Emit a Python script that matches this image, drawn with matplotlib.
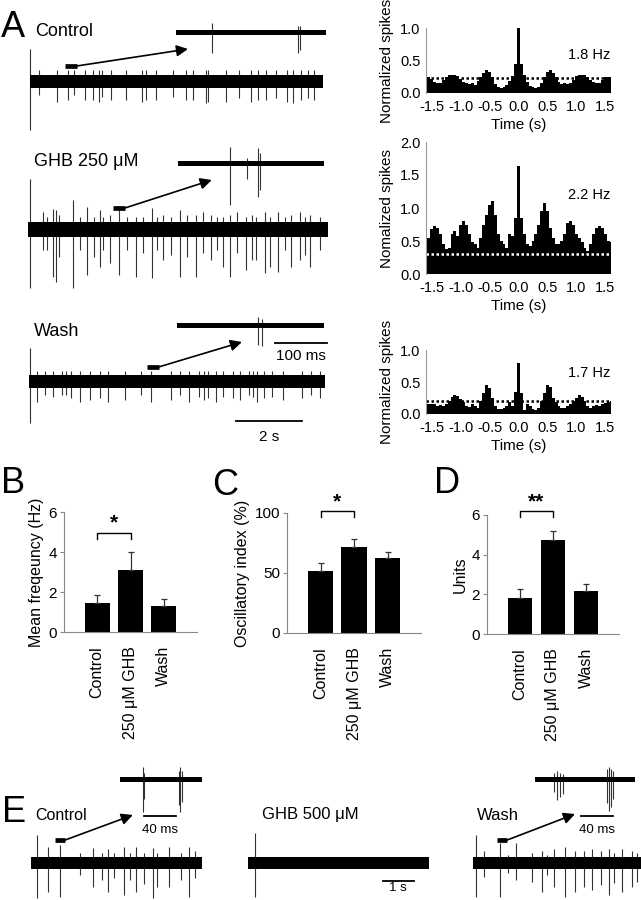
import numpy as np
import matplotlib.pyplot as plt

plt.rcParams['font.family'] = ['Liberation Sans', 'DejaVu Sans']
plt.rcParams['axes.unicode_minus'] = False

# ---------------- data ----------------
# autocorrelation histograms (normalized spikes), bins of 0.05 s from -1.6 to 1.6 s
bin_start, bin_w = -1.6, 0.05
hist_ctrl = [0.24, 0.24, 0.22, 0.17, 0.15, 0.16, 0.20, 0.24, 0.27, 0.28,
             0.28, 0.26, 0.22, 0.17, 0.15, 0.14, 0.15, 0.13, 0.18, 0.25,
             0.31, 0.35, 0.32, 0.24, 0.14, 0.10, 0.08, 0.10, 0.12, 0.18,
             0.26, 0.45, 1.00, 0.44, 0.27, 0.17, 0.11, 0.09, 0.08, 0.10,
             0.15, 0.25, 0.33, 0.36, 0.31, 0.24, 0.17, 0.14, 0.15, 0.14,
             0.16, 0.20, 0.26, 0.28, 0.28, 0.27, 0.24, 0.20, 0.17, 0.15,
             0.16, 0.20, 0.24, 0.25, 0.25]
hist_ghb = [0.45, 0.55, 0.68, 0.72, 0.70, 0.60, 0.45, 0.38, 0.40, 0.60,
            0.65, 0.58, 0.75, 0.80, 0.75, 0.60, 0.48, 0.45, 0.40, 0.55,
            0.75, 0.90, 1.05, 1.10, 0.90, 0.60, 0.50, 0.45, 0.40, 0.60,
            0.58, 0.85, 1.63, 0.85, 0.60, 0.45, 0.42, 0.50, 0.60, 0.75,
            0.95, 1.08, 0.95, 0.70, 0.55, 0.45, 0.45, 0.50, 0.60, 0.78,
            0.80, 0.75, 0.60, 0.55, 0.48, 0.40, 0.35, 0.45, 0.60, 0.70,
            0.72, 0.70, 0.60, 0.50, 0.48]
hist_wash = [0.17, 0.16, 0.15, 0.15, 0.13, 0.14, 0.12, 0.15, 0.20, 0.26,
             0.30, 0.28, 0.23, 0.18, 0.13, 0.11, 0.15, 0.12, 0.10, 0.20,
             0.33, 0.45, 0.40, 0.25, 0.12, 0.08, 0.08, 0.10, 0.12, 0.18,
             0.12, 0.35, 0.80, 0.33, 0.06, 0.15, 0.12, 0.08, 0.07, 0.10,
             0.20, 0.33, 0.45, 0.42, 0.25, 0.18, 0.12, 0.10, 0.10, 0.12,
             0.15, 0.20, 0.25, 0.30, 0.27, 0.20, 0.12, 0.10, 0.12, 0.14,
             0.13, 0.15, 0.17, 0.18, 0.20]
mean_rate = [0.23, 0.30, 0.21]
osc_freq = ['1.8 Hz', '2.2 Hz', '1.7 Hz']

# summary bars
groups = ['Control', '250 \u03bcM GHB', 'Wash']
freq_mean = [1.45, 3.12, 1.32]
freq_err = [0.42, 0.88, 0.35]
osc_mean = [51.7, 71.3, 62.2]
osc_err = [6.3, 7.4, 4.9]
units_mean = [1.84, 4.74, 2.18]
units_err = [0.42, 0.47, 0.33]

# recordings: spike times, negative peaks, positive peaks (first entry = artifact)
a_ctrl_t = [0.0, 0.28, 0.83, 1.16, 1.33, 1.67, 1.92, 2.10, 2.20, 2.47, 2.91, 3.41, 3.53, 3.84, 4.34,
            4.75, 4.95, 5.35, 5.40, 5.96, 6.36, 6.72, 6.92, 7.17, 7.47, 7.80, 7.98, 8.23, 8.43, 8.64]
a_ctrl_dn = [-49, -14, -21, -19, -14, -19, -19, -21, -16, -19, -19, -21, -19, -19, -16,
             -19, -19, -22, -21, -21, -17, -21, -19, -19, -17, -21, -22, -19, -17, -19]
a_ctrl_up = [32] + [11] * 29

a_ghb_t = [0.06, 0.46, 0.59, 0.75, 0.85, 0.95, 1.37, 1.58, 1.80, 2.00, 2.18, 2.28, 2.48, 2.75, 2.99,
           3.27, 3.49, 3.75, 3.90, 4.10, 4.35, 4.61, 4.81, 5.11, 5.31, 5.54, 5.72, 5.90, 6.12,
           6.34, 6.61, 6.78, 6.93, 7.18, 7.33, 7.59, 7.79, 7.99, 8.24, 8.39, 8.55, 8.85]
a_ghb_dn = [-59, -21, -21, -48, -53, -28, -59, -21, -46, -28, -38, -21, -34, -46, -21,
            -48, -24, -49, -21, -31, -26, -48, -28, -48, -24, -31, -21, -38, -48,
            -24, -41, -31, -31, -44, -38, -43, -21, -38, -31, -26, -38, -21]
a_ghb_up = [50, 17, 12, 20, 19, 14, 29, 12, 22, 12, 19, 12, 14, 19, 12,
            12, 12, 21, 12, 14, 12, 19, 14, 14, 17, 14, 12, 12, 14,
            17, 12, 14, 12, 17, 12, 17, 12, 14, 17, 12, 14, 12]

a_wash_t = [0.03, 0.23, 0.48, 0.74, 0.99, 1.14, 1.29, 1.55, 1.85, 2.15, 2.40, 2.91, 3.41, 3.72,
            4.32, 4.58, 4.88, 5.18, 5.33, 5.43, 5.69, 5.89, 6.19, 6.41, 6.70, 6.80, 6.92,
            7.15, 7.40, 7.71, 8.31, 8.57, 8.84]
a_wash_dn = [-42, -21, -14, -16, -14, -14, -17, -21, -19, -17, -21, -19, -14, -21,
             -19, -14, -21, -16, -19, -17, -21, -16, -17, -19, -14, -16, -21,
             -17, -16, -19, -17, -14, -17]
a_wash_up = [33] + [10] * 32

# expanded traces (ms)
in_ctrl_t, in_ctrl_dn, in_ctrl_up = [69, 235, 238], [-21, -21, -18], [9, 6, 6]
in_ghb_t, in_ghb_dn, in_ghb_up = [100, 132, 154, 158], [-42, -16, -34, -27], [16, 5, 15, 10]
in_wash_t, in_wash_dn, in_wash_up = [156, 163], [-20, -21], [8, 6]

# panel E
e_ctrl_t = [0.20, 0.56, 0.94, 1.58, 2.01, 2.28, 2.49, 2.66, 2.98, 3.19, 3.39, 3.62, 3.92,
            4.05, 4.43, 4.81, 5.08, 5.29]
e_ctrl_dn = [-35, -29, -34, -12, -24, -17, -29, -15, -32, -17, -29, -21, -35, -24, -24, -17, -34, -15]
e_ctrl_up = [28, 16, 18, 10, 15, 10, 14, 10, 16, 10, 16, 10, 15, 10, 16, 10, 16, 12]
e_ghb_t, e_ghb_dn, e_ghb_up = [0.23], [-34], [30]
e_wash_t = [0.09, 0.35, 0.87, 1.14, 1.39, 1.89, 2.22, 2.38, 2.59, 2.97, 3.29, 3.56, 3.83,
            4.10, 4.36, 4.53, 4.80, 5.12, 5.28]
e_wash_dn = [-34, -14, -34, -10, -17, -19, -29, -12, -24, -34, -29, -24, -27, -22, -32, -20, -29, -24, -19]
e_wash_up = [28, 12, 20, 8, 20, 10, 12, 8, 14, 16, 12, 12, 14, 12, 14, 10, 14, 12, 10]
ein_ctrl_t, ein_ctrl_dn, ein_ctrl_up = [28, 30, 73, 75, 77], [-33, -20, -26, -33, -23], [12, 6, 8, 12, 8]
ein_wash_t = [24, 27, 31, 35, 90, 92, 95, 97]
ein_wash_dn = [-13, -21, -18, -15, -24, -32, -28, -20]
ein_wash_up = [6, 8, 6, 5, 10, 12, 10, 8]

# ---------------- figure ----------------
W, H = 641, 900
fig = plt.figure(figsize=(W / 100, H / 100), dpi=100)


def px_axes(x0, y0, x1, y1):
    return fig.add_axes([x0 / W, 1 - y1 / H, (x1 - x0) / W, (y1 - y0) / H])


def trace(x0, x1, base, dur, half, band, t, dn, up):
    ax = px_axes(x0, base - half, x1, base + half)
    ax.set_xlim(0, dur)
    ax.set_ylim(-half, half)
    ax.axis('off')
    ax.vlines(t, dn, up, color='#333333', lw=0.8, clip_on=False, zorder=1)
    ax.fill_between([0, dur], -band, band, color='black', lw=0, zorder=2)
    return ax


def zoom_mark(ax, ax_in, t0, t1, y, tip):
    ax.plot([t0, t1], [y, y], color='black', lw=3.4, solid_capstyle='butt')
    ax_in.annotate('', xy=tip, xycoords='data', xytext=(t1, y), textcoords=ax.transData,
                   annotation_clip=False,
                   arrowprops=dict(arrowstyle='-|>', color='black', lw=1.2,
                                   mutation_scale=17, shrinkA=0, shrinkB=0))


def scale_bar(ax, a, b, y, label, ty, fs):
    ax.plot([a, b], [y, y], color='black', lw=1.3, clip_on=False)
    ax.text((a + b) / 2, ty, label, ha='center', va='center', fontsize=fs)


def letter(x, y, s):
    fig.text(x / W, 1 - y / H, s, fontsize=26, va='baseline', ha='left')


def label(x, y, s, fs):
    fig.text(x / W, 1 - y / H, s, fontsize=fs, va='center', ha='left')


# ---- panel A traces ----
letter(1, 37, 'A')
label(35, 31, 'Control', 13)
label(34, 162, 'GHB 250 \u03bcM', 13)
label(34, 331, 'Wash', 13)

ax = trace(30, 323, 81, 8.9, 60, 6.5, a_ctrl_t, a_ctrl_dn, a_ctrl_up)
axi = trace(176, 326, 32, 288, 30, 2.5, in_ctrl_t, in_ctrl_dn, in_ctrl_up)
zoom_mark(ax, axi, 1.06, 1.42, 15, (23, -17))

ax = trace(28, 328, 229, 9.1, 70, 7.5, a_ghb_t, a_ghb_dn, a_ghb_up)
axi = trace(178, 324, 163, 281, 50, 2.5, in_ghb_t, in_ghb_dn, in_ghb_up)
zoom_mark(ax, axi, 2.58, 2.94, 21, (65, -17))

ax = trace(29, 325, 381, 9.0, 60, 6.5, a_wash_t, a_wash_dn, a_wash_up)
axi = trace(177, 324, 325, 283, 30, 2.5, in_wash_t, in_wash_dn, in_wash_up)
zoom_mark(ax, axi, 3.58, 3.94, 14, (125, -17))
scale_bar(ax, 6.3, 8.3, -40, '2 s', -56, 11)
scale_bar(axi, 188, 288, -18, '100 ms', -31, 11)

# ---- panel A histograms ----
edges = [bin_start + i * bin_w - bin_w / 2 for i in range(len(hist_ctrl) + 1)]
hist_specs = [(28, 93, hist_ctrl, 1.0, [0.0, 0.5, 1.0], 'black', 'Normalized spikes', 0.58),
              (142, 274, hist_ghb, 2.0, [0.0, 0.5, 1.0, 1.5, 2.0], 'white', 'Nomalized spikes', 0.60),
              (350, 414, hist_wash, 1.0, [0.0, 0.5, 1.0], 'black', 'Normalized spikes', 0.64)]
for i, (y0, y1, vals, ymax, yt, lc, yl, ty) in enumerate(hist_specs):
    ax = px_axes(426, y0, 611, y1)
    ax.stairs(vals, edges, fill=True, color='black', lw=0)
    ax.axhline(mean_rate[i], color=lc, ls=(0, (1, 1)), lw=1.8)
    ax.set_xlim(-1.6, 1.6)
    ax.set_ylim(0, ymax)
    for s in ['top', 'right', 'bottom']:
        ax.spines[s].set_visible(False)
    ax.spines['left'].set_color('#999999')
    ax.set_yticks(yt)
    ax.set_yticklabels(['%.1f' % v for v in yt])
    ax.set_xticks([-1.5, -1.0, -0.5, 0.0, 0.5, 1.0, 1.5])
    ax.set_xticklabels(['-1.5', '-1.0', '-0.5', '0.0', '0.5', '1.0', '1.5'])
    ax.tick_params(axis='x', length=0, pad=5, labelsize=10.5)
    ax.tick_params(axis='y', length=0, pad=4, labelsize=10.5)
    ax.set_xlabel('Time (s)', fontsize=11, labelpad=3)
    ax.set_ylabel(yl, fontsize=11, labelpad=4)
    ax.text(0.77, ty, osc_freq[i], transform=ax.transAxes, fontsize=10.5, va='center')

# ---- panels B, C, D ----
bar_specs = [(64, 512, 197, 632, freq_mean, freq_err, 6, [0, 2, 4, 6], 'Mean freqeuncy (Hz)',
              (4.67, 4.97, 5.45), '*', 'B', (1, 493)),
             (287, 513, 421, 633, osc_mean, osc_err, 100, [0, 50, 100], 'Oscillatory index (%)',
              (97, 102, 109), '*', 'C', (212, 495)),
             (487, 515, 619, 634, units_mean, units_err, 6, [0, 2, 4, 6], 'Units',
              (5.88, 6.2, 6.65), '**', 'D', (434, 493))]
for x0, y0, x1, y1, m, e, ymax, yt, yl, br, st, let, lpos in bar_specs:
    letter(lpos[0], lpos[1], let)
    ax = px_axes(x0, y0, x1, y1)
    pos = np.arange(len(groups))
    ax.bar(pos, m, width=0.75, color='black')
    ax.errorbar(pos, m, yerr=[np.zeros(len(e)), e], fmt='none', ecolor='#333333',
                elinewidth=0.9, capsize=2, capthick=0.9)
    ax.set_xlim(-1, 3)
    ax.set_ylim(0, ymax)
    ax.spines['top'].set_visible(False)
    ax.spines['right'].set_visible(False)
    ax.spines['left'].set_color('#888888')
    ax.spines['bottom'].set_color('#888888')
    ax.set_yticks(yt)
    ax.tick_params(axis='y', length=3, color='#888888', labelsize=11, pad=2)
    ax.set_xticks(pos)
    ax.set_xticklabels(groups, rotation=90, fontsize=11.5)
    ax.tick_params(axis='x', length=0, pad=10)
    ax.set_ylabel(yl, fontsize=11.5, labelpad=3)
    ax.plot([0, 0, 1, 1], [br[0], br[1], br[1], br[0]], color='black', lw=1.0, clip_on=False)
    ax.text(0.5, br[2], st, ha='center', va='center', fontsize=15, fontweight='bold')

# ---- panel E ----
letter(2, 822, 'E')
label(35, 815, 'Control', 11.5)
label(262, 815, 'GHB 500 \u03bcM', 12)
label(477, 815, 'Wash', 12)

ax = trace(31, 202, 863, 5.5, 45, 6, e_ctrl_t, e_ctrl_dn, e_ctrl_up)
axi = trace(120, 202, 779, 102, 40, 2.5, ein_ctrl_t, ein_ctrl_dn, ein_ctrl_up)
zoom_mark(ax, axi, 0.77, 1.10, 23, (16, -36))
scale_bar(axi, 30, 70, -37, '40 ms', -51, 9.5)

ax = trace(248, 429, 863, 5.85, 45, 6, e_ghb_t, e_ghb_dn, e_ghb_up)
scale_bar(ax, 4.35, 5.35, -18, '1 s', -25, 9.5)

ax = trace(473, 641, 863, 5.4, 45, 6, e_wash_t, e_wash_dn, e_wash_up)
axi = trace(535, 635, 779, 125, 40, 2.5, ein_wash_t, ein_wash_dn, ein_wash_up)
zoom_mark(ax, axi, 0.77, 1.10, 23, (50, -35))
scale_bar(axi, 57.5, 97.5, -37, '40 ms', -51, 9.5)

fig.savefig('out.png', dpi=100)
